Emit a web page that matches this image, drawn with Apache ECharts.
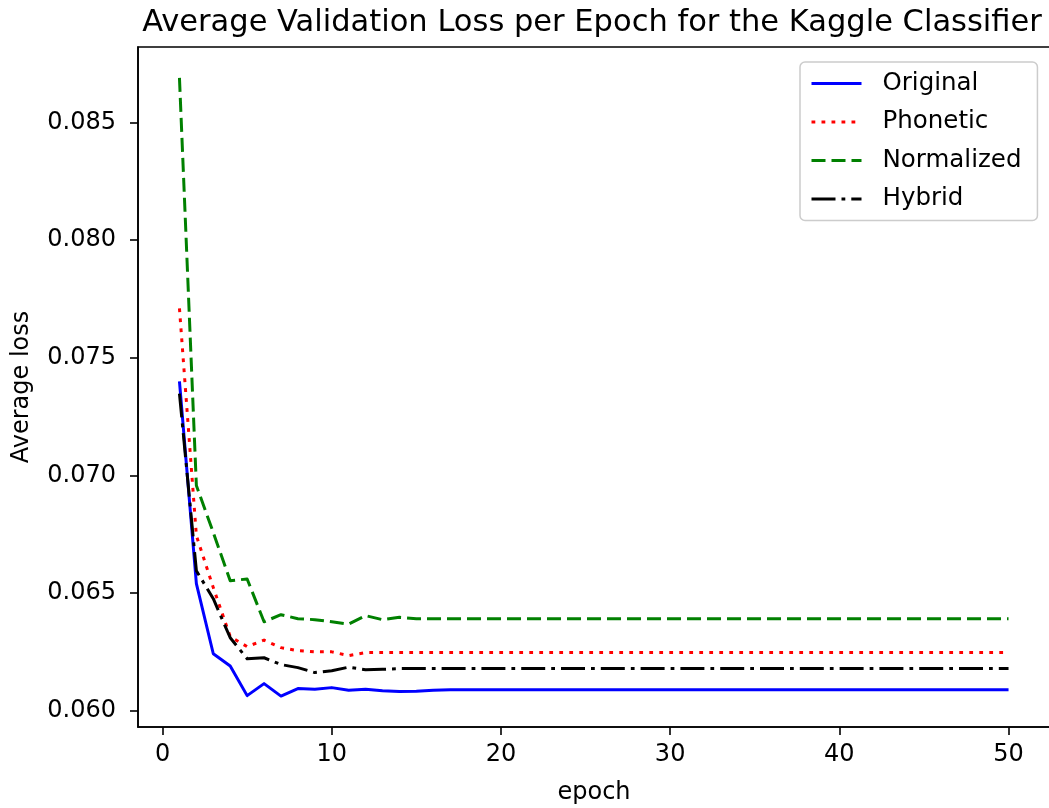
<!DOCTYPE html>
<html>
<head>
<meta charset="utf-8">
<script src="https://cdn.jsdelivr.net/npm/echarts@6/dist/echarts.min.js"></script>
<style>
html,body{margin:0;padding:0;background:#fff;}
#chart{width:1049px;height:808px;}
</style>
</head>
<body>
<div id="chart"></div>
<script>
const titleText = 'Average Validation Loss per Epoch for the Kaggle Classifier';
const xLabel = 'epoch';
const yLabel = 'Average loss';
const epochs = [1,2,3,4,5,6,7,8,9,10,11,12,13,14,15,16,17,18,19,20,21,22,23,24,25,26,27,28,29,30,31,32,33,34,35,36,37,38,39,40,41,42,43,44,45,46,47,48,49,50];
const xTicks = [0,10,20,30,40,50];
const yTicks = [0.060,0.065,0.070,0.075,0.080,0.085];
const seriesNames = ['Original','Phonetic','Normalized','Hybrid'];

const original = [0.0740,0.0654,0.06242,0.0619,0.06064,0.06115,0.06062,0.06094,0.06091,0.06098,
0.06087,0.06091,0.06085,0.06081,0.06083,0.06087,0.06089,0.06089,0.06089,0.06089,
0.06089,0.06089,0.06089,0.06089,0.06089,0.06089,0.06089,0.06089,0.06089,0.06089,
0.06089,0.06089,0.06089,0.06089,0.06089,0.06089,0.06089,0.06089,0.06089,0.06089,
0.06089,0.06089,0.06089,0.06089,0.06089,0.06089,0.06089,0.06089,0.06089,0.06089];

const phonetic = [0.0771,0.06744,0.06523,0.06315,0.06272,0.0630,0.06268,0.06255,0.0625,0.0625,
0.06234,0.06247,0.06247,0.06247,0.06247,0.06247,0.06247,0.06247,0.06247,0.06247,
0.06247,0.06247,0.06247,0.06247,0.06247,0.06247,0.06247,0.06247,0.06247,0.06247,
0.06247,0.06247,0.06247,0.06247,0.06247,0.06247,0.06247,0.06247,0.06247,0.06247,
0.06247,0.06247,0.06247,0.06247,0.06247,0.06247,0.06247,0.06247,0.06247,0.06247];

const normalized = [0.0869,0.06957,0.06757,0.06552,0.06560,0.06378,0.06408,0.06391,0.06387,0.06378,
0.06368,0.06404,0.06387,0.06397,0.06391,0.06391,0.06391,0.06391,0.06391,0.06391,
0.06391,0.06391,0.06391,0.06391,0.06391,0.06391,0.06391,0.06391,0.06391,0.06391,
0.06391,0.06391,0.06391,0.06391,0.06391,0.06391,0.06391,0.06391,0.06391,0.06391,
0.06391,0.06391,0.06391,0.06391,0.06391,0.06391,0.06391,0.06391,0.06391,0.06391];

const hybrid = [0.07348,0.06595,0.06476,0.0631,0.06221,0.06225,0.06196,0.06183,0.06162,0.0617,
0.06185,0.06174,0.06176,0.06179,0.06179,0.06179,0.06179,0.06179,0.06179,0.06179,
0.06179,0.06179,0.06179,0.06179,0.06179,0.06179,0.06179,0.06179,0.06179,0.06179,
0.06179,0.06179,0.06179,0.06179,0.06179,0.06179,0.06179,0.06179,0.06179,0.06179,
0.06179,0.06179,0.06179,0.06179,0.06179,0.06179,0.06179,0.06179,0.06179,0.06179];

const allVals = [original, phonetic, normalized, hybrid];
const colors = ['#0000ff','#ff0000','#008000','#000000'];
const dashes = ['solid',[3.8,6.2],[14,6],[24,6,3.8,6]];

// matplotlib-style 5% auto margins
const xs = epochs;
const xMin0 = Math.min(...xs), xMax0 = Math.max(...xs);
const xPad = (xMax0 - xMin0) * 0.05;
const flat = [].concat(...allVals);
const yMin0 = Math.min(...flat), yMax0 = Math.max(...flat);
const yPad = (yMax0 - yMin0) * 0.05;

const FONT = 'DejaVu Sans';
const chart = echarts.init(document.getElementById('chart'), null, {renderer:'canvas'});

const series = seriesNames.map((name, i) => ({
  name: name,
  type: 'line',
  symbol: 'none',
  data: epochs.map((e, j) => [e, allVals[i][j]]),
  lineStyle: {color: colors[i], width: 3, type: dashes[i], cap: 'butt', join: 'round'},
  itemStyle: {color: colors[i]},
  z: 2 + i
}));

chart.setOption({
  animation: false,
  backgroundColor: '#ffffff',
  title: {
    text: titleText,
    left: 587,
    textAlign: 'center',
    top: 3,
    textStyle: {fontFamily: FONT, fontSize: 30.5, fontWeight: 'normal', color: '#000'}
  },
  grid: {
    left: 138, top: 47, width: 912, height: 680,
    outerBoundsMode: 'none',
    containLabel: false,
    show: true, borderColor: '#000', borderWidth: 1.6, backgroundColor: 'transparent'
  },
  legend: {
    data: seriesNames,
    orient: 'vertical',
    left: 800,
    top: 62,
    padding: [9, 16, 9, 10],
    itemWidth: 50,
    itemHeight: 24,
    itemGap: 13.5,
    backgroundColor: '#ffffff',
    borderColor: '#cccccc',
    borderWidth: 1.5,
    borderRadius: 5,
    itemStyle: {opacity: 0, color: 'transparent', borderWidth: 0},
    lineStyle: {width: 3},
    textStyle: {fontFamily: FONT, fontSize: 24.5, color: '#000', padding: [0,0,0,16]}
  },
  xAxis: {
    type: 'value',
    min: xMin0 - xPad,
    max: xMax0 + xPad,
    name: xLabel,
    nameLocation: 'middle',
    nameGap: 54,
    nameTextStyle: {fontFamily: FONT, fontSize: 24, color: '#000'},
    axisLine: {show: true, onZero: false, lineStyle: {color: '#000', width: 1.6}},
    axisTick: {show: true, inside: false, length: 8, customValues: xTicks, lineStyle: {color: '#000', width: 1.6}},
    axisLabel: {customValues: xTicks, margin: 16, fontFamily: FONT, fontSize: 24, color: '#000', formatter: v => String(v)},
    splitLine: {show: false}
  },
  yAxis: {
    type: 'value',
    min: yMin0 - yPad,
    max: yMax0 + yPad,
    name: yLabel,
    nameLocation: 'middle',
    nameRotate: 90,
    nameGap: 104,
    nameTextStyle: {fontFamily: FONT, fontSize: 24, color: '#000'},
    axisLine: {show: true, onZero: false, lineStyle: {color: '#000', width: 1.6}},
    axisTick: {show: true, inside: false, length: 8, customValues: yTicks, lineStyle: {color: '#000', width: 1.6}},
    axisLabel: {customValues: yTicks, margin: 22, fontFamily: FONT, fontSize: 24, color: '#000', formatter: v => v.toFixed(3)},
    splitLine: {show: false}
  },
  series: series
});
</script>
</body>
</html>
